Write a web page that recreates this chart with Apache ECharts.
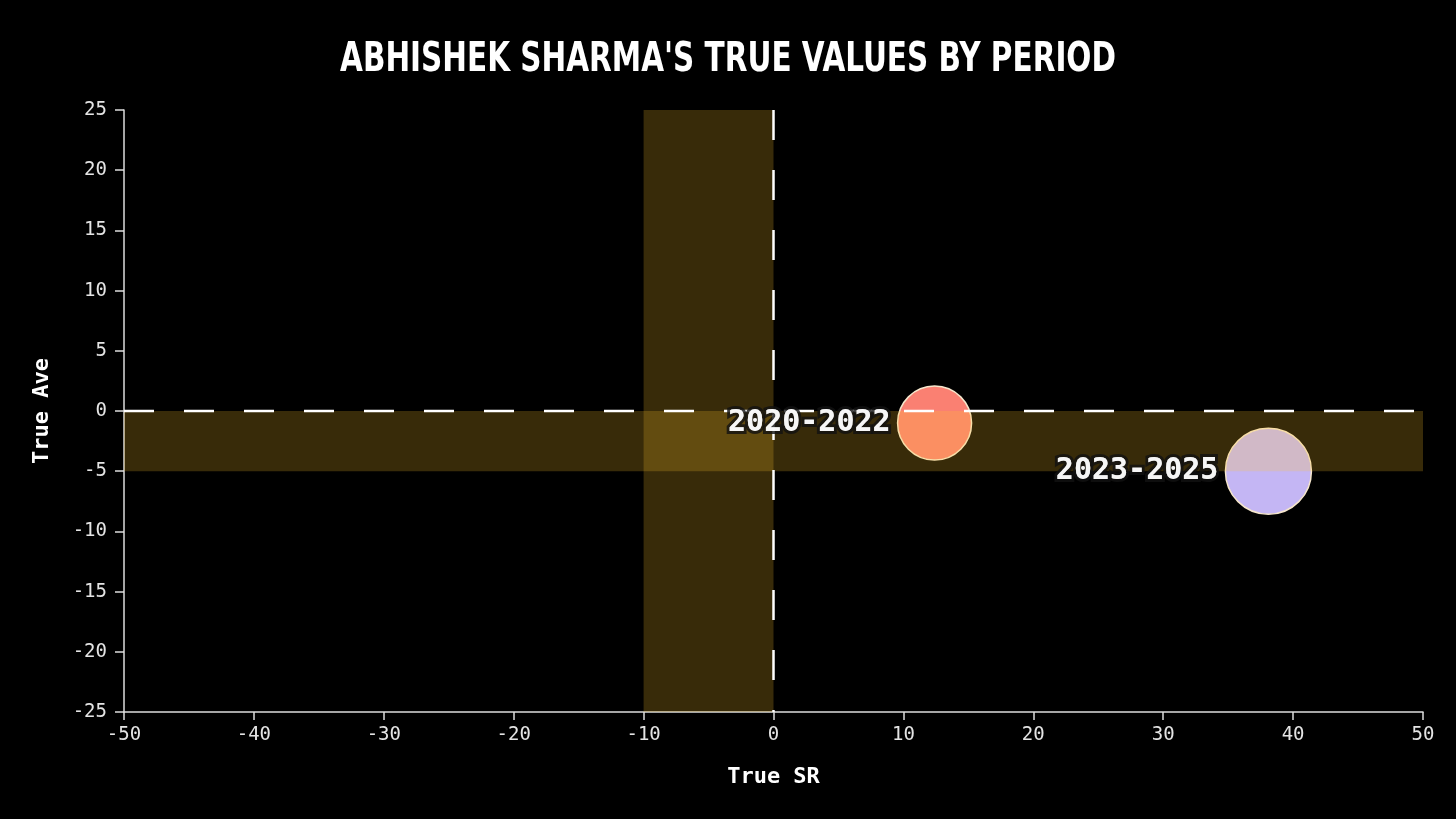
<!DOCTYPE html>
<html>
<head>
<meta charset="utf-8">
<script src="https://cdn.jsdelivr.net/npm/echarts@6/dist/echarts.min.js"></script>
<style>
html,body{margin:0;padding:0;background:#000;}
#chart{width:1456px;height:819px;}
</style>
</head>
<body>
<div id="chart"></div>
<script>
// ---- data ----
const chartTitle = "ABHISHEK SHARMA'S TRUE VALUES BY PERIOD";
const periods = ['2020-2022', '2023-2025'];
const trueSR = [12.4, 38.1];
const trueAve = [-1.0, -5.0];
const bubbleSize = [74, 86];
const bubbleColors = ['#FA8072', '#C4B6F4'];
const xTicksMin = -50, xTicksMax = 50, xTickStep = 10;
const yTicksMin = -25, yTicksMax = 25, yTickStep = 5;
// shaded bands: [xFrom, xTo, yFrom, yTo]
const bandVertical = [-10, 0, -25, 25];
const bandHorizontal = [-50, 50, -5, 0];
// reference lines (drawn from top / from left)
const refLineX = [[0, 25], [0, -25]];
const refLineY = [[-50, 0], [50, 0]];

const chart = echarts.init(document.getElementById('chart'), null, {renderer: 'canvas'});
const mono = "'DejaVu Sans Mono', monospace";

const pointData = periods.map((p, i) => ({
  name: p,
  value: [trueSR[i], trueAve[i]],
  symbolSize: bubbleSize[i],
  itemStyle: {color: bubbleColors[i]}
}));

const labelBase = {
  show: true,
  position: 'left',
  distance: 7,
  formatter: p => p.name,
  color: '#fff',
  fontFamily: mono,
  fontWeight: 'bold',
  fontSize: 30
};

const option = {
  backgroundColor: '#000',
  animation: false,
  graphic: [{
    type: 'text',
    x: 728,
    y: 60,
    scaleX: 0.8,
    silent: true,
    style: {
      text: chartTitle,
      fill: '#fff',
      font: "bold 41px 'DejaVu Sans Condensed', sans-serif",
      align: 'center',
      verticalAlign: 'middle'
    }
  }],
  grid: {left: 124, right: 33, top: 110, bottom: 107, containLabel: false},
  xAxis: {
    type: 'value',
    min: xTicksMin, max: xTicksMax, interval: xTickStep,
    name: 'True SR',
    nameLocation: 'middle',
    nameGap: 54,
    nameTextStyle: {color: '#fff', fontFamily: mono, fontWeight: 'bold', fontSize: 22},
    axisLine: {show: true, onZero: false, lineStyle: {color: '#ddd', width: 1.5}},
    axisTick: {show: true, length: 8, lineStyle: {color: '#ddd', width: 1.5}},
    axisLabel: {color: '#e4e4e4', fontFamily: mono, fontSize: 19, margin: 14},
    splitLine: {show: false}
  },
  yAxis: {
    type: 'value',
    min: yTicksMin, max: yTicksMax, interval: yTickStep,
    name: 'True Ave',
    nameLocation: 'middle',
    nameGap: 71,
    nameRotate: 90,
    nameTextStyle: {color: '#fff', fontFamily: mono, fontWeight: 'bold', fontSize: 22},
    axisLine: {show: true, onZero: false, lineStyle: {color: '#ddd', width: 1.5}},
    axisTick: {show: true, length: 9, lineStyle: {color: '#ddd', width: 1.5}},
    axisLabel: {color: '#e4e4e4', fontFamily: mono, fontSize: 19, margin: 17},
    splitLine: {show: false}
  },
  series: [
    {
      type: 'scatter',
      z: 2,
      data: pointData,
      itemStyle: {opacity: 1, borderColor: '#F6E6CC', borderWidth: 1.5},
      label: {show: false}
    },
    {
      type: 'custom',
      z: 3,
      silent: true,
      data: [bandVertical, bandHorizontal],
      renderItem: function (params, api) {
        const p1 = api.coord([api.value(0), api.value(3)]);
        const p2 = api.coord([api.value(1), api.value(2)]);
        return {
          type: 'rect',
          shape: {x: p1[0], y: p1[1], width: p2[0] - p1[0], height: p2[1] - p1[1]},
          style: {fill: 'rgba(255,196,40,0.22)'}
        };
      }
    },
    {
      type: 'line', z: 4, silent: true, symbol: 'none', data: refLineX,
      lineStyle: {color: '#fff', width: 2.5, type: [30, 30]}
    },
    {
      type: 'line', z: 4, silent: true, symbol: 'none', data: refLineY,
      lineStyle: {color: '#fff', width: 2.5, type: [30, 30]}
    },
    {
      // outline layer of the labels
      type: 'scatter',
      z: 5,
      silent: true,
      data: pointData.map(d => ({name: d.name, value: d.value, symbolSize: d.symbolSize})),
      itemStyle: {color: 'rgba(0,0,0,0)'},
      label: Object.assign({}, labelBase, {textBorderColor: '#111', textBorderWidth: 6})
    },
    {
      // fill layer of the labels
      type: 'scatter',
      z: 6,
      silent: true,
      data: pointData.map(d => ({name: d.name, value: d.value, symbolSize: d.symbolSize})),
      itemStyle: {color: 'rgba(0,0,0,0)'},
      label: Object.assign({}, labelBase, {textBorderWidth: 0})
    }
  ]
};
chart.setOption(option);
</script>
</body>
</html>
